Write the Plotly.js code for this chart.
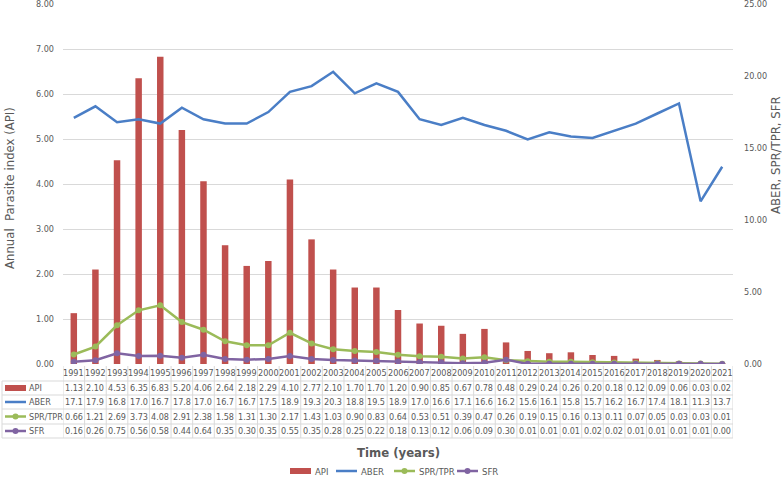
<!DOCTYPE html>
<html><head><meta charset="utf-8">
<script src="https://cdn.plot.ly/plotly-3.0.1.min.js"></script>
<style>body{margin:0;background:#fff}#c{width:783px;height:485px}</style>
</head><body><div id="c"></div>
<script>
const years = ["1991","1992","1993","1994","1995","1996","1997","1998","1999","2000","2001","2002","2003","2004","2005","2006","2007","2008","2009","2010","2011","2012","2013","2014","2015","2016","2017","2018","2019","2020","2021"];
const api  = [1.13,2.10,4.53,6.35,6.83,5.20,4.06,2.64,2.18,2.29,4.10,2.77,2.10,1.70,1.70,1.20,0.90,0.85,0.67,0.78,0.48,0.29,0.24,0.26,0.20,0.18,0.12,0.09,0.06,0.03,0.02];
const aber = [17.1,17.9,16.8,17.0,16.7,17.8,17.0,16.7,16.7,17.5,18.9,19.3,20.3,18.8,19.5,18.9,17.0,16.6,17.1,16.6,16.2,15.6,16.1,15.8,15.7,16.2,16.7,17.4,18.1,11.3,13.7];
const spr  = [0.66,1.21,2.69,3.73,4.08,2.91,2.38,1.58,1.31,1.30,2.17,1.43,1.03,0.90,0.83,0.64,0.53,0.51,0.39,0.47,0.26,0.19,0.15,0.16,0.13,0.11,0.07,0.05,0.03,0.03,0.01];
const sfr  = [0.16,0.26,0.75,0.56,0.58,0.44,0.64,0.35,0.30,0.35,0.55,0.35,0.28,0.25,0.22,0.18,0.13,0.12,0.06,0.09,0.30,0.01,0.01,0.01,0.02,0.02,0.01,0.01,0.01,0.01,0.00];
const seriesNames = ["API","ABER","SPR/TPR","SFR"];

const C_API="#C0504D", C_ABER="#4A7EC6", C_SPR="#9BBB59", C_SFR="#8064A2";
const COLORS=[C_API,C_ABER,C_SPR,C_SFR];
const GRAY="#595959", GRID="#D9D9D9";
const FONT="DejaVu Sans Condensed, DejaVu Sans, sans-serif";

const L=63, R=733, T=4, B=364;
const px2x = p => (p-L)/(R-L);
const px2y = p => (B-p)/(B-T);

const traces = [
  {type:"bar", name:"API", x:years, y:api, marker:{color:C_API}, width:0.3, yaxis:"y"},
  {type:"scatter", mode:"lines", name:"ABER", x:years, y:aber, line:{color:C_ABER,width:2.5}, yaxis:"y2"},
  {type:"scatter", mode:"lines+markers", name:"SPR/TPR", x:years, y:spr, line:{color:C_SPR,width:2.5}, marker:{size:6,color:C_SPR}, yaxis:"y2"},
  {type:"scatter", mode:"lines+markers", name:"SFR", x:years, y:sfr, line:{color:C_SFR,width:2.5}, marker:{size:6,color:C_SFR}, yaxis:"y2"}
];

const annotations = [];
const shapes = [];
const rowY = [373, 388, 402, 416.5, 431];
const rows = [years, api.map(v=>v.toFixed(2)), aber.map(v=>v.toFixed(1)), spr.map(v=>v.toFixed(2)), sfr.map(v=>v.toFixed(2))];
rows.forEach((row,r)=>{
  row.forEach((v,i)=>{
    annotations.push({xref:"x", yref:"paper", x:i, y:px2y(rowY[r]), text:String(v), showarrow:false,
      font:{family:FONT,size:9,color:GRAY}, xanchor:"center", yanchor:"middle"});
  });
});
function symbol(x0, yc, k){
  const c=COLORS[k];
  if(k===0){
    shapes.push({type:"rect", xref:"paper", yref:"paper", x0:px2x(x0), x1:px2x(x0+21), y0:px2y(yc+3), y1:px2y(yc-3), fillcolor:c, line:{width:0}});
  } else {
    shapes.push({type:"line", xref:"paper", yref:"paper", x0:px2x(x0), x1:px2x(x0+21), y0:px2y(yc), y1:px2y(yc), line:{color:c,width:2.5}});
    if(k>=2) shapes.push({type:"circle", xref:"paper", yref:"paper", x0:px2x(x0+7.5), x1:px2x(x0+13.5), y0:px2y(yc+3), y1:px2y(yc-3), fillcolor:c, line:{width:0}});
  }
}
seriesNames.forEach((n,k)=>{
  symbol(5, rowY[k+1], k);
  annotations.push({xref:"paper", yref:"paper", x:px2x(27), y:px2y(rowY[k+1]), text:n, showarrow:false,
    font:{family:FONT,size:9,color:GRAY}, xanchor:"left", yanchor:"middle"});
});
const legX=[290,336,394,457];
seriesNames.forEach((n,k)=>{
  symbol(legX[k], 471, k);
  annotations.push({xref:"paper", yref:"paper", x:px2x(legX[k]+23), y:px2y(471), text:n, showarrow:false,
    font:{family:FONT,size:9.5,color:GRAY}, xanchor:"left", yanchor:"middle"});
});
const lc = {color:GRID, width:1};
[381,395,409,424,438].forEach(py=>{
  shapes.push({type:"line", xref:"paper", yref:"paper", x0:px2x(2), x1:1, y0:px2y(py), y1:px2y(py), line:lc});
});
shapes.push({type:"line", xref:"paper", yref:"paper", x0:px2x(2), x1:px2x(2), y0:px2y(381), y1:px2y(438), line:lc});
for(let i=0;i<=years.length;i++){
  shapes.push({type:"line", xref:"x", yref:"paper", x0:i-0.5, x1:i-0.5, y0:px2y(366), y1:px2y(438), line:lc});
}

annotations.push({xref:"paper", yref:"paper", x:px2x(398), y:px2y(452), text:"<b>Time (years)</b>", showarrow:false,
  font:{family:FONT,size:13,color:GRAY}, xanchor:"center", yanchor:"middle"});
annotations.push({xref:"paper", yref:"paper", x:px2x(9), y:px2y(188), text:"Annual  Parasite index (API)", showarrow:false, textangle:-90,
  font:{family:FONT,size:13,color:GRAY}, xanchor:"center", yanchor:"middle"});
annotations.push({xref:"paper", yref:"paper", x:px2x(776), y:px2y(155), text:"ABER, SPR/TPR, SFR", showarrow:false, textangle:-90,
  font:{family:FONT,size:13,color:GRAY}, xanchor:"center", yanchor:"middle"});

const layout = {
  width:783, height:485,
  margin:{l:L, r:783-R, t:T, b:485-B},
  paper_bgcolor:"#fff", plot_bgcolor:"#fff",
  showlegend:false,
  xaxis:{type:"category", showticklabels:false, ticks:"", showgrid:false, zeroline:false, showline:false, range:[-0.5, years.length-0.5]},
  yaxis:{range:[0,8.002], tickvals:[0,1,2,3,4,5,6,7,8], tickformat:".2f", gridcolor:GRID, gridwidth:1, zeroline:false, showline:false,
    tickfont:{family:FONT,size:9,color:GRAY}, ticklabelstandoff:8, ticklabeloverflow:"allow"},
  yaxis2:{range:[0,25.006], tickvals:[0,5,10,15,20,25], tickformat:".2f", overlaying:"y", side:"right", showgrid:false, zeroline:false, showline:false,
    tickfont:{family:FONT,size:9,color:GRAY}, ticklabelstandoff:10, ticklabeloverflow:"allow"},
  annotations, shapes
};
Plotly.newPlot("c", traces, layout, {displayModeBar:false, staticPlot:true});
</script></body></html>
